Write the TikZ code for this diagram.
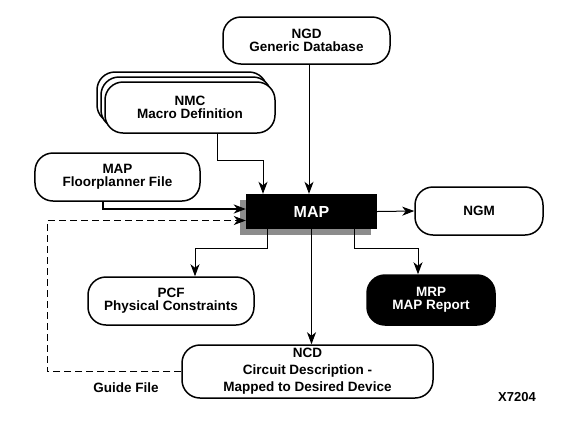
\documentclass[tikz,border=0pt]{standalone}
\usepackage{fontspec}
\setmainfont{Liberation Sans}
\usetikzlibrary{arrows.meta}
\tikzset{
  term/.style={draw, line width=1.5bp, rounded corners=18bp, align=center, fill=white,
    font=\bfseries\fontsize{13.5bp}{13.3bp}\selectfont, inner sep=0pt},
  blackterm/.style={term, fill=black, text=white},
  conn/.style={line width=1bp, -{Stealth[length=12bp,width=9bp,inset=3.5bp]}},
  lbl/.style={font=\bfseries\fontsize{13.5bp}{14bp}\selectfont, inner sep=0pt}
}
\begin{document}
\begin{tikzpicture}[x=1bp,y=-1bp]
\useasboundingbox (0,0) rectangle (569,424);
% NGD
\node[term, minimum width=167bp, minimum height=47bp] (ngd) at (306.5,40.5) {NGD\\Generic Database};
% NMC stack
\node[term, minimum width=170bp, minimum height=51bp] (nmc2) at (182,97.5) {};
\node[term, minimum width=170bp, minimum height=51bp] (nmc1) at (186,102.5) {};
\node[term, minimum width=170bp, minimum height=51bp] (nmc) at (190,107.5) {NMC\\Macro Definition};
% Floorplanner
\node[term, minimum width=165bp, minimum height=48bp] (fp) at (117.5,177) {MAP\\Floorplanner File};
% MAP with shadow
\node[fill=black!45, minimum width=131bp, minimum height=35bp, inner sep=0pt] (mapsh) at (305.5,217.5) {};
\node[fill=black, text=white, minimum width=131bp, minimum height=35bp, inner sep=0pt,
  font=\bfseries\fontsize{16bp}{18bp}\selectfont] (map) at (311.5,211.5) {MAP};
% NGM
\node[term, minimum width=128bp, minimum height=48bp] (ngm) at (479,211) {NGM};
% PCF
\node[term, minimum width=166bp, minimum height=48bp] (pcf) at (171,301) {PCF\\Physical Constraints};
% MRP
\node[blackterm, minimum width=128bp, minimum height=50bp] (mrp) at (431,300) {MRP\\MAP Report};
% NCD
\node[term, minimum width=251bp, minimum height=53bp, font=\bfseries\fontsize{13.5bp}{17bp}\selectfont] (ncd) at (307.5,371.5) {NCD\\Circuit Description -\\Mapped to Desired Device};
% labels
\node[lbl] (guide) at (126,388) {Guide File};
\node[lbl, font=\bfseries\fontsize{13bp}{14bp}\selectfont] (x7204) at (517,397) {X7204};
% connectors
\draw[conn] ([xshift=-2.5bp]map.north |- ngd.south) -- ([xshift=-2.5bp]map.north);
\draw[conn] ([xshift=27bp]nmc.south) -- ++(0,27) -| ([xshift=-48.5bp]map.north);
\draw[conn, line width=2bp] ([xshift=-14.5bp]fp.south) |- ([yshift=2.5bp]map.west);
\draw[conn, dash pattern=on 7bp off 4bp] (ncd.west) -- ++(-134,0) |- ([yshift=-9bp]map.west);
\draw[conn] (map.east) -- (ngm.west);
\draw[conn] ([xshift=-44.5bp]map.south) -- ++(0,19) -| ([xshift=24bp]pcf.north);
\draw[conn] (map.south) -- (map.south |- ncd.north);
\draw[conn] ([xshift=42.5bp]map.south) -- ++(0,19) -| ([xshift=-13bp]mrp.north);
\end{tikzpicture}
\end{document}
